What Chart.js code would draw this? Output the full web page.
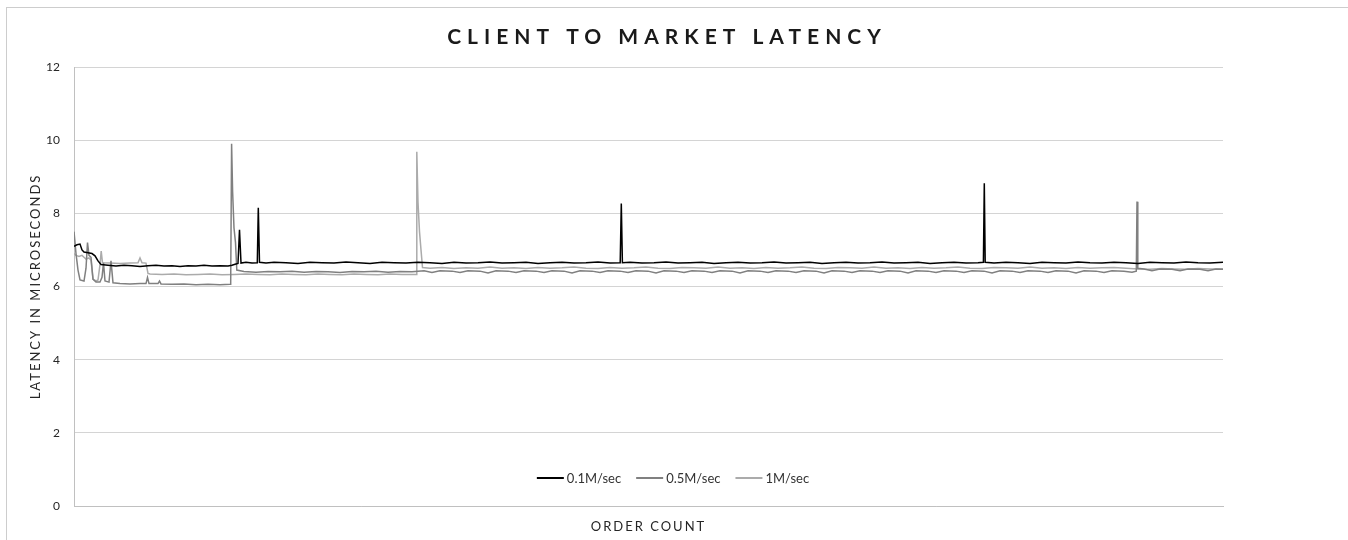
<!DOCTYPE html>
<html>
<head>
<meta charset="utf-8">
<title>Client to Market Latency</title>
<script src="https://cdn.jsdelivr.net/npm/chart.js@4.4.1/dist/chart.umd.min.js"></script>
<style>
    html, body { margin: 0; padding: 0; background: #fff; overflow: hidden; }
    .frame {
        position: absolute; left: 6px; top: 7px; width: 1400px; height: 600px;
        border-top: 1px solid #cdcdcd; border-left: 1px solid #cdcdcd;
    }
    #latencyChart { position: absolute; left: 0; top: 0; }
</style>
</head>
<body>
<div class="frame"></div>
<canvas id="latencyChart" width="1348" height="540"></canvas>
<script>
const TITLE = "CLIENT TO MARKET LATENCY";
const X_TITLE = "ORDER COUNT";
const Y_TITLE = "LATENCY IN MICROSECONDS";

const seriesLabels = ["0.1M/sec", "0.5M/sec", "1M/sec"];
const yTicks = [0, 2, 4, 6, 8, 10, 12];
const orderRange = [0, 1149];

// [order, latency us]
const rate01 = [
    [0,7.10],[3,7.14],[6,7.16],[8,7.00],[10,6.94],[14,6.92],[18,6.90],[21,6.84],[24,6.70],[27,6.60],
    [34,6.58],[42,6.56],[50,6.58],[58,6.57],[66,6.55],[74,6.57],[82,6.58],[90,6.56],[98,6.57],[106,6.55],
    [114,6.57],[122,6.56],[130,6.58],[138,6.56],[146,6.57],[154,6.56],[158,6.58],[161,6.61],[164,6.63],
    [165.5,7.55],[167,6.64],[172,6.66],[178,6.64],[183.3,6.65],[184.3,8.15],[185.5,6.66],[192,6.64],
    [200,6.66],[212,6.65],[224,6.63],[236,6.66],[248,6.65],[260,6.64],[272,6.67],[284,6.65],[296,6.63],
    [308,6.66],[320,6.65],[332,6.64],[344,6.66],[356,6.65],[368,6.63],[380,6.66],[392,6.64],[404,6.65],
    [416,6.67],[428,6.64],[440,6.65],[452,6.66],[464,6.63],[476,6.65],[488,6.66],[500,6.64],[512,6.65],
    [524,6.67],[536,6.64],[546.2,6.65],[547.3,8.27],[548.4,6.65],[556,6.66],[568,6.64],[580,6.65],
    [592,6.67],[604,6.64],[616,6.65],[628,6.66],[640,6.63],[652,6.65],[664,6.66],[676,6.64],[688,6.65],
    [700,6.67],[712,6.64],[724,6.65],[736,6.66],[748,6.63],[760,6.65],[772,6.66],[784,6.64],[796,6.65],
    [808,6.67],[820,6.64],[832,6.65],[844,6.66],[856,6.63],[868,6.65],[880,6.66],[892,6.64],[904,6.65],
    [909.4,6.66],[910.3,8.82],[911.2,6.66],[920,6.64],[932,6.66],[944,6.65],[956,6.63],[968,6.66],
    [980,6.65],[992,6.64],[1004,6.67],[1016,6.65],[1028,6.64],[1040,6.66],[1052,6.65],[1064,6.63],
    [1076,6.66],[1088,6.65],[1100,6.64],[1112,6.67],[1124,6.65],[1136,6.64],[1149,6.66]
];

const rate05 = [
    [0,7.50],[2,6.90],[4,6.45],[6,6.18],[10,6.15],[12,6.50],[13.5,7.20],[15,6.85],[17,6.80],[19,6.20],
    [22,6.12],[26,6.12],[28,6.25],[29.5,6.65],[31,6.15],[35,6.12],[37,6.70],[39,6.10],[46,6.08],[56,6.07],
    [66,6.08],[72,6.08],[73.5,6.25],[75,6.08],[84,6.08],[85.5,6.15],[87,6.07],[98,6.06],[110,6.07],
    [122,6.05],[134,6.06],[146,6.05],[156,6.06],[156.7,6.12],[157.6,9.90],[158.6,8.60],[160,7.60],
    [161.5,7.20],[162.8,6.45],[170,6.41],[182,6.39],[194,6.41],[206,6.40],[218,6.42],[230,6.39],
    [242,6.41],[254,6.40],[266,6.38],[278,6.41],[290,6.40],[302,6.42],[314,6.39],[326,6.41],[338,6.40],
    [350,6.43],[358,6.38],[366,6.43],[378,6.42],[386,6.38],[394,6.43],[406,6.42],[414,6.37],[422,6.43],
    [434,6.42],[442,6.38],[450,6.43],[462,6.42],[470,6.38],[478,6.43],[490,6.42],[498,6.37],[506,6.43],
    [518,6.42],[526,6.38],[534,6.43],[546,6.42],[554,6.38],[562,6.43],[574,6.42],[582,6.37],[590,6.43],
    [602,6.42],[610,6.38],[618,6.43],[630,6.42],[638,6.38],[646,6.43],[658,6.42],[666,6.37],[674,6.43],
    [686,6.42],[694,6.38],[702,6.43],[714,6.42],[722,6.38],[730,6.43],[742,6.42],[750,6.37],[758,6.43],
    [770,6.42],[778,6.38],[786,6.43],[798,6.42],[806,6.38],[814,6.43],[826,6.42],[834,6.37],[842,6.43],
    [854,6.42],[862,6.38],[870,6.43],[882,6.42],[890,6.38],[898,6.43],[910,6.42],[918,6.37],[926,6.43],
    [938,6.42],[946,6.38],[954,6.43],[966,6.42],[974,6.38],[982,6.43],[994,6.42],[1002,6.37],[1010,6.43],
    [1022,6.42],[1030,6.38],[1038,6.43],[1050,6.42],[1058,6.39],[1062.3,6.42],[1063,8.32],[1063.8,6.50],
    [1070,6.48],[1078,6.43],[1086,6.48],[1098,6.47],[1106,6.43],[1114,6.48],[1126,6.47],[1134,6.43],
    [1142,6.48],[1149,6.47]
];

const rate1 = [
    [0,6.90],[2,6.85],[5,6.82],[8,6.85],[10,6.80],[12,6.75],[15,6.78],[17,6.72],[19,6.20],[22,6.15],
    [24,6.18],[26,6.60],[27.2,6.97],[28.5,6.65],[36,6.64],[46,6.63],[56,6.64],[64,6.65],[66,6.78],
    [68,6.65],[72,6.64],[74,6.36],[76,6.34],[88,6.33],[100,6.34],[112,6.32],[124,6.33],[136,6.34],
    [148,6.32],[160,6.33],[172,6.34],[184,6.33],[196,6.32],[208,6.34],[220,6.33],[232,6.32],[244,6.34],
    [256,6.33],[268,6.32],[280,6.34],[292,6.33],[304,6.32],[316,6.34],[328,6.33],[342,6.33],[342.8,9.68],
    [344,8.30],[345.5,7.50],[347,7.00],[348.5,6.52],[356,6.50],[368,6.52],[380,6.49],[392,6.51],
    [404,6.50],[416,6.53],[428,6.50],[440,6.51],[452,6.49],[464,6.52],[476,6.50],[488,6.51],[500,6.53],
    [512,6.50],[524,6.49],[536,6.52],[548,6.50],[560,6.51],[572,6.53],[584,6.50],[596,6.49],[608,6.52],
    [620,6.51],[632,6.50],[644,6.53],[656,6.50],[668,6.51],[680,6.49],[692,6.52],[704,6.50],[716,6.51],
    [728,6.53],[740,6.50],[752,6.49],[764,6.52],[776,6.51],[788,6.50],[800,6.53],[812,6.50],[824,6.51],
    [836,6.49],[848,6.52],[860,6.50],[872,6.51],[884,6.53],[896,6.50],[908,6.49],[920,6.52],[932,6.51],
    [944,6.50],[956,6.53],[968,6.50],[980,6.51],[992,6.49],[1004,6.52],[1016,6.50],[1028,6.51],
    [1040,6.52],[1052,6.50],[1064,6.48],[1076,6.47],[1088,6.49],[1100,6.48],[1112,6.47],[1124,6.49],
    [1136,6.48],[1149,6.48]
];

const toPoints = (pairs) => pairs.map(([x, y]) => ({ x, y }));

// title with letter spacing + legend sitting inside the plot, like the Excel original
const excelDecor = {
    id: 'excelDecor',
    beforeDraw(chart, args, opts) {
        // spaced caps for the axis titles (drawn with the grid layer)
        chart.ctx.letterSpacing = opts.axisSpacing;
    },
    beforeDatasetsDraw(chart) {
        // tick labels come after this (ticks.z = 1), keep them unspaced
        chart.ctx.letterSpacing = '0px';
    },
    afterDraw(chart, args, opts) {
        const ctx = chart.ctx;
        const area = chart.chartArea;
        ctx.save();

        ctx.font = opts.titleFont;
        ctx.letterSpacing = opts.titleSpacing;
        ctx.fillStyle = opts.titleColor;
        ctx.textAlign = 'center';
        ctx.textBaseline = 'middle';
        ctx.fillText(opts.title, opts.titleX, opts.titleY);

        ctx.font = opts.legendFont;
        ctx.letterSpacing = '0px';
        ctx.textAlign = 'left';
        const sets = chart.data.datasets;
        const lineLen = 27, gap = 3, itemGap = 15;
        const widths = sets.map(ds => lineLen + gap + ctx.measureText(ds.label).width);
        const total = widths.reduce((a, b) => a + b, 0) + itemGap * (sets.length - 1);
        let x = opts.legendX - total / 2;
        const y = area.bottom - opts.legendLift;
        sets.forEach((ds, i) => {
            ctx.strokeStyle = ds.borderColor;
            ctx.lineWidth = 2;
            ctx.beginPath();
            ctx.moveTo(x, y);
            ctx.lineTo(x + lineLen, y);
            ctx.stroke();
            ctx.fillStyle = opts.legendColor;
            ctx.fillText(ds.label, x + lineLen + gap, y + 1);
            x += widths[i] + itemGap;
        });
        ctx.restore();
    }
};

const ctx = document.getElementById('latencyChart').getContext('2d');

new Chart(ctx, {
    type: 'line',
    data: {
        datasets: [
            { label: seriesLabels[0], data: toPoints(rate01), borderColor: '#000000', borderWidth: 1.5 },
            { label: seriesLabels[1], data: toPoints(rate05), borderColor: '#808080', borderWidth: 1.5 },
            { label: seriesLabels[2], data: toPoints(rate1), borderColor: '#ababab', borderWidth: 1.5 }
        ]
    },
    plugins: [excelDecor],
    options: {
        responsive: false,
        animation: false,
        devicePixelRatio: 1,
        layout: { padding: { top: 67, right: 125, bottom: 0, left: 0 } },
        elements: {
            point: { radius: 0 },
            line: { tension: 0 }
        },
        plugins: {
            legend: { display: false },
            title: { display: false },
            tooltip: { enabled: false },
            excelDecor: {
                title: TITLE,
                titleFont: 'bold 21px Lato',
                titleSpacing: '6px',
                titleColor: '#1a1a1a',
                titleX: 667,
                titleY: 37,
                axisSpacing: '2px',
                legendFont: '13px Lato',
                legendColor: '#333333',
                legendX: 673,
                legendLift: 28
            }
        },
        scales: {
            x: {
                type: 'linear',
                min: orderRange[0],
                max: orderRange[1],
                ticks: { display: false },
                grid: { display: false },
                border: { display: true, color: '#c0c0c0' },
                title: {
                    display: true,
                    text: X_TITLE,
                    color: '#262626',
                    font: { family: 'Lato', size: 13 },
                    padding: { top: 0, bottom: 5 }
                },
                afterFit(scale) { scale.height = 34; }
            },
            y: {
                min: yTicks[0],
                max: yTicks[yTicks.length - 1],
                afterBuildTicks(scale) { scale.ticks = yTicks.map(v => ({ value: v })); },
                ticks: { z: 1, padding: 14, color: '#262626', font: { family: 'Lato', size: 12 } },
                grid: { color: '#d4d4d4', drawTicks: false },
                border: { display: true, color: '#c0c0c0' },
                title: {
                    display: true,
                    text: Y_TITLE,
                    color: '#262626',
                    font: { family: 'Lato', size: 13 },
                    padding: { top: 28, bottom: 0 }
                },
                afterFit(scale) { scale.width = 74; }
            }
        }
    }
});
</script>
</body>
</html>
